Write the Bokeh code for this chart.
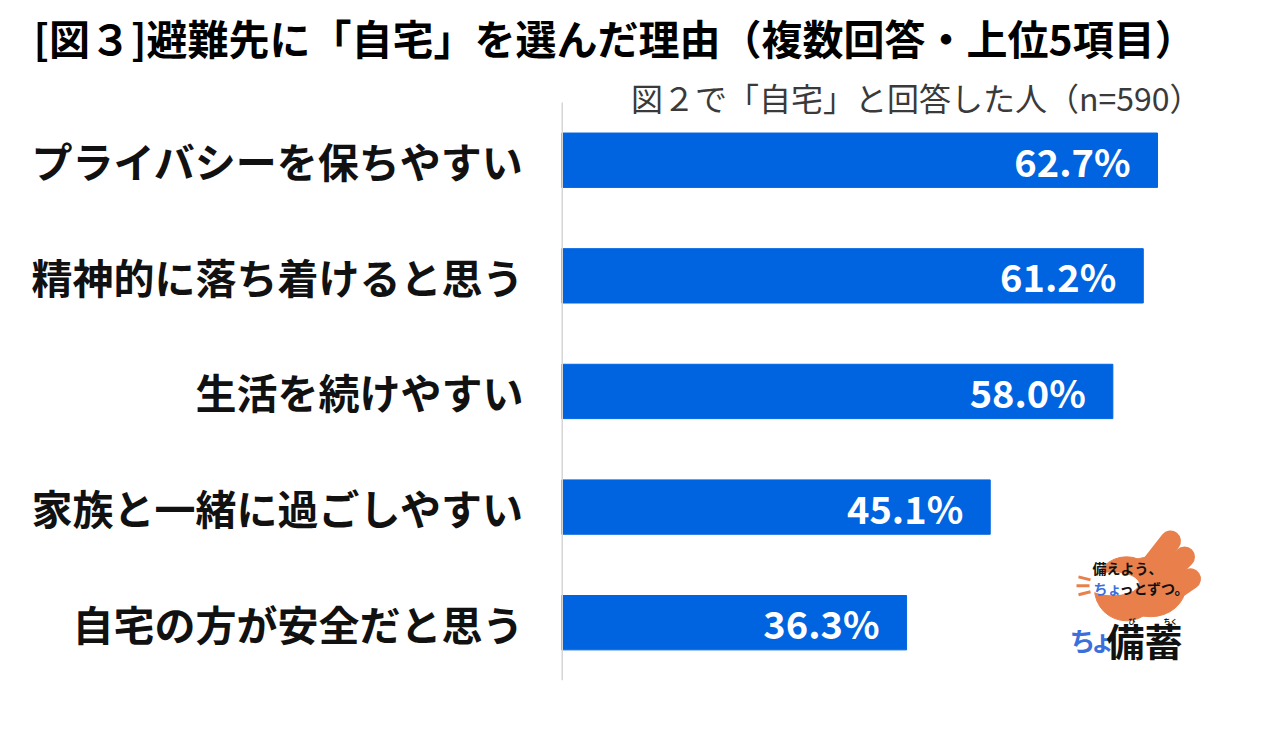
from bokeh.plotting import figure
from bokeh.models import Range1d, FixedTicker, ColumnDataSource
from bokeh.core.properties import value
from bokeh.embed import file_html
from bokeh.resources import INLINE

# ---- data ----
categories = [
    "プライバシーを保ちやすい",
    "精神的に落ち着けると思う",
    "生活を続けやすい",
    "家族と一緒に過ごしやすい",
    "自宅の方が安全だと思う",
]
values = [62.7, 61.2, 58.0, 45.1, 36.3]
value_labels = ["62.7%", "61.2%", "58.0%", "45.1%", "36.3%"]
title_text = "[図３]避難先に「自宅」を選んだ理由（複数回答・上位5項目）"
subtitle_text = "図２で「自宅」と回答した人（n=590）"

FONT = "Noto Sans CJK JP"
BAR_COLOR = "#0064E0"
ORANGE = "#E9804C"
LOGO_BLUE = "#3A6FDC"

W, H = 1263, 714
FRAME_L, FRAME_T, FRAME_B = 561, 70, 680
PX_PER_UNIT = 116.0
positions = list(range(len(categories)))
src = ColumnDataSource(dict(y=positions, v=values, lab=value_labels))

y_top = 4.5 - (FRAME_B - FRAME_T) / PX_PER_UNIT

p = figure(
    width=W, height=H, output_backend="svg", toolbar_location=None,
    x_range=Range1d(0, (W - FRAME_L) / 9.506), y_range=Range1d(4.5, y_top),
    x_axis_location=None,
    min_border_left=FRAME_L, min_border_right=0, min_border_top=FRAME_T,
    min_border_bottom=H - FRAME_B,
    outline_line_color=None, background_fill_color="white", border_fill_color="white",
)
p.grid.visible = False

# title in the panel above the frame
p.title.text = title_text
p.title.align = "left"
p.title.offset = 33 - FRAME_L
p.title.vertical_align = "middle"
p.title.text_font = FONT
p.title.text_font_style = "bold"
p.title.text_font_size = "41px"
p.title.text_color = "#000000"

ax = p.yaxis[0]
ax.ticker = FixedTicker(ticks=positions)
ax.major_label_overrides = {i: c for i, c in zip(positions, categories)}
ax.axis_line_color = None
ax.major_tick_line_color = None
ax.minor_tick_line_color = None
ax.major_tick_out = 0
ax.major_tick_in = 0
ax.major_label_standoff = 38
ax.major_label_text_font = FONT
ax.major_label_text_font_size = "41px"
ax.major_label_text_font_style = "bold"
ax.major_label_text_color = "#111111"

p.hbar(y="y", left=0, right="v", height=0.47, color=BAR_COLOR, source=src)
p.text(x="v", y="y", text="lab", source=src, x_offset=-27,
       text_align="right", text_baseline="middle", text_color="white",
       text_font=value(FONT), text_font_style="bold", text_font_size="38px")

# pixel-space ranges for decorations (axis line, subtitle, logo)
p.extra_x_ranges = {"px": Range1d(FRAME_L, W)}
p.extra_y_ranges = {"px": Range1d(FRAME_B, FRAME_T)}
kw = dict(x_range_name="px", y_range_name="px")

# axis line
p.segment(x0=[561], y0=[100], x1=[561], y1=[680], line_color="#d6d6d6", line_width=3, **kw)

# subtitle
p.text(x=[1201], y=[95], text=[subtitle_text], text_align="right", text_baseline="middle",
       text_font=value(FONT), text_font_size="32px", text_color="#3a3a3a", **kw)

# ---- logo ----
p.segment(x0=[1135, 1148, 1158], y0=[585, 592, 600], x1=[1170, 1184, 1190], y1=[540, 556, 578],
          line_width=21, line_cap="round", line_color=ORANGE, **kw)
p.ellipse(x=[1150], y=[586], width=[70], height=[60], color=ORANGE, **kw)
p.circle(x=[1126], y=[588], radius=32, color=ORANGE, **kw)
p.ellipse(x=[1112], y=[583], width=[52], height=[22], color="white", **kw)
p.segment(x0=[1078, 1076, 1078], y0=[576, 585, 594], x1=[1090, 1089, 1090], y1=[579, 585, 591],
          line_width=3, line_color=ORANGE, **kw)

logo_txt = dict(text_baseline="middle", text_font=value(FONT), text_font_style="bold", **kw)
p.text(x=[1092], y=[567], text=["備えよう、"], text_font_size="14px", text_color="#111111", **logo_txt)
p.text(x=[1093], y=[587], text=["ちょ"], text_font_size="14px", text_color=LOGO_BLUE, **logo_txt)
p.text(x=[1119], y=[587], text=["っとずつ。"], text_font_size="14px", text_color="#111111", **logo_txt)
p.text(x=[1069], y=[639], text=["ち"], text_font_size="26px", text_color=LOGO_BLUE, **logo_txt)
p.text(x=[1089], y=[639], text=["ょ"], text_font_size="26px", text_color=LOGO_BLUE, **logo_txt)
p.text(x=[1106], y=[639], text=["備蓄"], text_font_size="38px", text_color="#111111", **logo_txt)
p.text(x=[1128, 1163], y=[620, 620], text=["び", "ちく"], text_font_size="7px", text_color="#111111", **logo_txt)

open("out.html", "w").write(file_html(p, INLINE))
